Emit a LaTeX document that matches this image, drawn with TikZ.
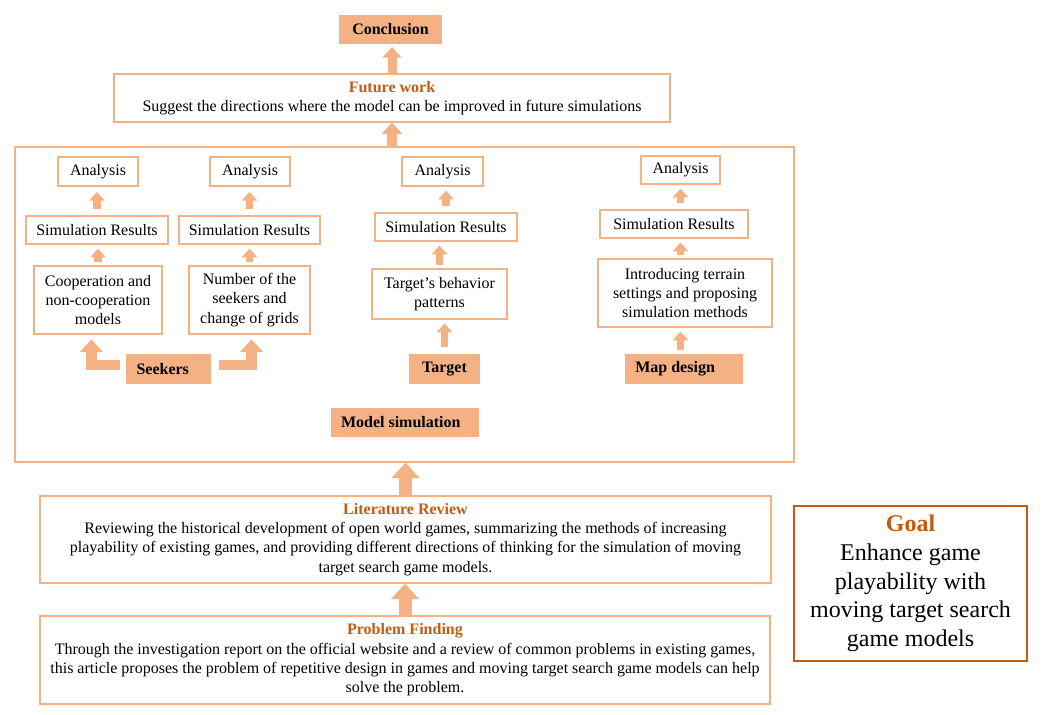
\documentclass[tikz,border=0pt]{standalone}
\usepackage{fontspec}
\setmainfont{Liberation Serif}
\usepackage{tikz}
\usetikzlibrary{arrows.meta,positioning,calc}
\definecolor{orng}{HTML}{F4B183}
\definecolor{brwn}{HTML}{C55A11}

\begin{document}
\begin{tikzpicture}[x=0.75pt,y=-0.75pt,
	font=\fontsize{12}{14.5}\selectfont,
	box/.style={draw=orng, line width=0.9pt, align=center, inner sep=2pt},
	hi/.style={fill=orng, font=\fontsize{12}{14.5}\selectfont\bfseries, inner sep=0pt, minimum height=22.5pt},
	arr/.style={draw=orng, line width=#1, line join=miter, -{Triangle[width=0pt 2.1, length=0pt 1.2]}},
	arr/.default=5.5pt]
	\useasboundingbox (0,0) rectangle (1042,714);
	
	\node[box, minimum width=584.25pt, minimum height=236.25pt] (frame) at (404.5,304.5) {};
	\node[hi, minimum width=77.25pt, minimum height=21.75pt] (concl) at (390.5,29.5) {Conclusion};
	\node[box, minimum width=417pt, minimum height=36pt] (future) at (392,98) {\textcolor{brwn}{\textbf{Future work}}\\Suggest the directions where the model can be improved in future simulations};
	
	\node[box, minimum width=60pt, minimum height=21.75pt] (a1) at (98,171.5) {Analysis};
	\node[box, minimum width=106.5pt, minimum height=21pt] (r1) at (97,230) {Simulation Results};
	\node[box, minimum width=96pt, minimum height=51pt] (c1) at (98,300) {Cooperation and\\non-cooperation\\models};
	\node[box, minimum width=60pt, minimum height=21.75pt] (a2) at (250,171.5) {Analysis};
	\node[box, minimum width=105.75pt, minimum height=21pt] (r2) at (249.5,230) {Simulation Results};
	\node[box, minimum width=90.75pt, minimum height=51pt] (c2) at (249.5,300) {Number of the\\seekers and\\change of grids};
	\node[hi, minimum width=63.75pt, text width=48pt, align=flush left] (seek) at (168.5,369) {Seekers};
	
	\node[box, minimum width=60.75pt, minimum height=21.75pt] (a3) at (442.5,171.5) {Analysis};
	\node[box, minimum width=106.5pt, minimum height=21pt] (r3) at (446,227) {Simulation Results};
	\node[box, minimum width=101.25pt, minimum height=37.5pt] (c3) at (439.5,294) {Target's behavior\\patterns};
	\node[hi, minimum width=53.25pt] (targ) at (444.5,369) {Target};
	
	\node[box, minimum width=59.25pt, minimum height=21pt] (a4) at (680.5,170) {Analysis};
	\node[box, minimum width=111pt, minimum height=21pt] (r4) at (674,224) {Simulation Results};
	\node[box, minimum width=130.5pt, minimum height=51pt] (c4) at (685,293) {Introducing terrain\\settings and proposing\\simulation methods};
	\node[hi, minimum width=88.5pt, text width=73pt, align=flush left] (map) at (684,369) {Map design};
	
	\node[hi, minimum width=111pt, minimum height=21.75pt, text width=96pt, align=flush left] (modsim) at (405,422.5) {Model simulation};
	
	\node[box, minimum width=548.25pt, minimum height=65.25pt] (lit) at (405.5,539.5) {\textcolor{brwn}{\textbf{Literature Review}}\\Reviewing the historical development of open world games, summarizing the methods of increasing\\playability of existing games, and providing different directions of thinking for the simulation of moving\\target search game models.};
	\node[box, minimum width=547.5pt, minimum height=66pt] (prob) at (405,660) {\textcolor{brwn}{\textbf{Problem Finding}}\\Through the investigation report on the official website and a review of common problems in existing games,\\this article proposes the problem of repetitive design in games and moving target search game models can help\\solve the problem.};
	
	\node[draw=brwn, line width=0.9pt, align=center, minimum width=174.75pt, minimum height=116.25pt, font=\fontsize{18}{21.5}\selectfont] (goal) at (910.5,583.5) {\textcolor{brwn}{\textbf{Goal}}\\Enhance game\\playability with\\moving target search\\game models};
	
	\draw[arr=6.75pt, shorten >=2pt] (future.north) -- (future.north |- concl.south);
	\draw[arr=7pt] (frame.north -| future.south) -- (future.south);
	\draw[arr=9.75pt] (lit.north) -- (lit.north |- frame.south);
	\draw[arr=9.75pt] (prob.north) -- (prob.north |- lit.south);
	
	\draw[arr, shorten <=4.5pt, shorten >=4pt] (r1.north) -- (r1.north |- a1.south);
	\draw[arr, shorten <=2.5pt, shorten >=3pt] (c1.north) -- (c1.north |- r1.south);
	\draw[arr, shorten <=4.5pt, shorten >=4pt] (r2.north) -- (r2.north |- a2.south);
	\draw[arr, shorten <=2.5pt, shorten >=3pt] (c2.north) -- (c2.north |- r2.south);
	\draw[arr=8pt, shorten <=4.5pt, shorten >=3.5pt] ([yshift=3pt]seek.west) -| ([xshift=-5pt]c1.south);
	\draw[arr=8pt, shorten <=6pt, shorten >=3.5pt] ([yshift=3pt]seek.east) -| ([xshift=1.5pt]c2.south);
	
	\draw[arr, shorten <=4.5pt, shorten >=3pt] (r3.north) -- (r3.north |- a3.south);
	\draw[arr, shorten <=2.5pt, shorten >=3pt] (c3.north) -- (c3.north |- r3.south);
	\draw[arr, shorten <=5pt, shorten >=3pt] (targ.north) -- (targ.north |- c3.south);
	
	\draw[arr, shorten <=4.5pt, shorten >=3pt] (r4.north -| a4.south) -- (a4.south);
	\draw[arr, shorten <=2.5pt, shorten >=3pt] (c4.north -| a4.south) -- (a4.south |- r4.south);
	\draw[arr, shorten <=2.5pt, shorten >=3pt] (map.north -| a4.south) -- (a4.south |- c4.south);
\end{tikzpicture}
\end{document}
